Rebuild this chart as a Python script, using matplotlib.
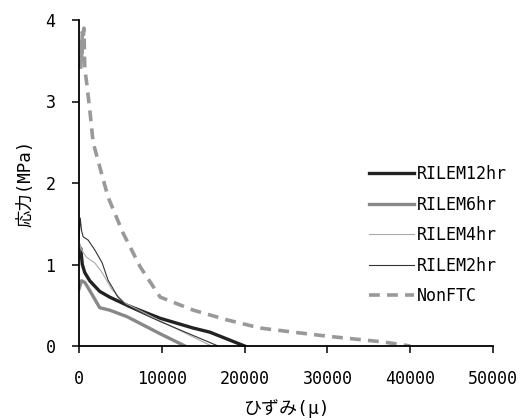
import matplotlib
matplotlib.use("Agg")
import matplotlib.pyplot as plt

plt.rcParams['font.family'] = ['DejaVu Sans Mono', 'Noto Sans CJK JP']

# Data (strain in micro, stress in MPa)
x_12hr = [0, 200, 400, 700, 1300, 2500, 3700, 5800, 9800, 13800, 15800, 20000]
y_12hr = [1.10, 1.20, 1.00, 0.90, 0.80, 0.67, 0.60, 0.50, 0.34, 0.22, 0.17, 0.00]

x_6hr = [0, 300, 700, 1300, 2500, 3700, 5800, 9800, 12800]
y_6hr = [0.70, 0.80, 0.78, 0.68, 0.47, 0.44, 0.36, 0.15, 0.00]

x_4hr = [0, 150, 300, 900, 1900, 2800, 4000, 5500, 9800, 16000]
y_4hr = [1.05, 1.25, 1.18, 1.09, 1.02, 0.90, 0.69, 0.53, 0.31, 0.00]

x_2hr = [0, 150, 300, 500, 1100, 1900, 2800, 3500, 4700, 5900, 9800, 16800]
y_2hr = [1.30, 1.57, 1.42, 1.34, 1.30, 1.18, 1.02, 0.81, 0.60, 0.48, 0.30, 0.00]

x_non = [200, 400, 300, 600, 700, 900, 1300, 1700, 2500, 3500, 5300, 7400, 9800,
         13800, 17900, 21900, 26700, 30000, 36700, 40000]
y_non = [3.40, 3.85, 3.50, 3.90, 3.40, 3.25, 2.90, 2.50, 2.20, 1.83, 1.39, 0.97, 0.60,
         0.44, 0.32, 0.22, 0.16, 0.12, 0.05, 0.00]

xticks = [0, 10000, 20000, 30000, 40000, 50000]
yticks = [0, 1, 2, 3, 4]

fig = plt.figure(figsize=(5.22, 4.20), dpi=100)
ax = fig.add_axes([79/522, 74/420, 414/522, 326/420])

ax.plot(x_12hr, y_12hr, color='#222222', lw=2.4, label='RILEM12hr')
ax.plot(x_6hr, y_6hr, color='#888888', lw=2.4, label='RILEM6hr')
ax.plot(x_4hr, y_4hr, color='#aaaaaa', lw=0.8, label='RILEM4hr')
ax.plot(x_2hr, y_2hr, color='#333333', lw=0.8, label='RILEM2hr')
ax.plot(x_non, y_non, color='#999999', lw=2.6, ls=(0, (3, 2)), label='NonFTC')

ax.set_xlim(0, 50000)
ax.set_ylim(0, 4)
ax.set_xticks(xticks)
ax.set_yticks(yticks)
ax.spines['top'].set_visible(False)
ax.spines['right'].set_visible(False)
for s in ['left', 'bottom']:
    ax.spines[s].set_linewidth(1.3)
    ax.spines[s].set_color('black')
ax.tick_params(axis='both', direction='out', length=5, width=1.1, labelsize=12)
ax.tick_params(axis='x', pad=12)
ax.tick_params(axis='y', pad=12)

ax.set_xlabel('ひずみ(μ)', fontsize=13, labelpad=8)
ax.set_ylabel('応力(MPa)', fontsize=12.5, labelpad=8)

ax.legend(loc='center left', bbox_to_anchor=(0.70, 0.34), frameon=False,
          fontsize=12, handlelength=2.7, handletextpad=0.2, labelspacing=0.75,
          borderpad=0, borderaxespad=0)

fig.savefig('out.png', dpi=100)
